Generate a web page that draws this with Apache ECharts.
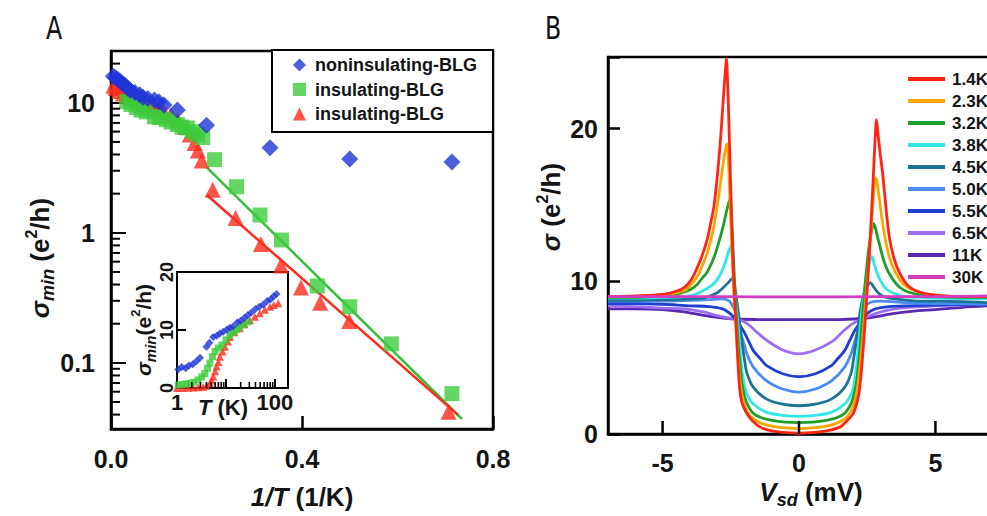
<!DOCTYPE html>
<html><head><meta charset="utf-8">
<script src="https://cdn.jsdelivr.net/npm/echarts@6/dist/echarts.min.js"></script>
<style>html,body{margin:0;padding:0;background:#fff}#c{width:987px;height:516px}</style>
</head><body><div id="c"></div>
<script>
// ===== Panel A: sigma_min vs 1/T (log y) =====
const invT_non = [0.005,0.01,0.015,0.02,0.025,0.03,0.035,0.04,0.05,0.06,0.067,0.077,0.091,0.1,0.111,0.139,0.2,0.333,0.5,0.714];
const sig_non  = [16,15.5,15,14.5,14,13.5,13,12.5,12,11.5,11,10.8,10.5,10.2,9.6,8.8,6.7,4.5,3.7,3.5];
const invT_insG = [0.033,0.042,0.053,0.063,0.074,0.091,0.101,0.116,0.126,0.139,0.149,0.16,0.171,0.181,0.192,0.217,0.263,0.312,0.357,0.432,0.5,0.587,0.714];
const sig_insG  = [10.2,9.7,9.2,8.8,8.5,7.8,7.7,7.4,7.1,6.8,6.5,6.4,6.0,5.7,5.4,3.65,2.26,1.37,0.88,0.39,0.27,0.14,0.058];
const invT_insR = [0.005,0.01,0.017,0.025,0.032,0.04,0.05,0.06,0.07,0.08,0.09,0.1,0.11,0.125,0.14,0.155,0.165,0.175,0.182,0.19,0.213,0.261,0.314,0.356,0.398,0.438,0.499,0.707];
const sig_insR  = [13.5,13,12.3,11.8,11.4,11,10.6,10.2,9.9,9.6,9.3,9.0,8.6,8.0,7.3,6.5,5.7,4.9,4.3,3.6,2.14,1.3,0.82,0.56,0.38,0.29,0.21,0.042];
const fitG_x = [0.2, 0.735];
const fitG_y = [3.2, 0.037];
const fitR_x = [0.2, 0.726];
const fitR_y = [1.96, 0.04];
const minorTicksA = [0.04,0.05,0.06,0.07,0.08,0.09,0.2,0.3,0.4,0.5,0.6,0.7,0.8,0.9,2,3,4,5,6,7,8,9,20];

// ===== Inset: sigma_min vs T (log x) =====
const T_non  = [1.06,1.25,1.5,1.75,2.1,2.5,2.95,4.0,4.6,5.5,6.5,7.5,8.8,10.5,12,14,17,20,24,28,33,40,48,58,70,82,95,108];
const s_non  = [3.2,3.6,3.4,3.9,4.1,4.6,5.2,7.1,7.8,8.8,9.0,9.4,9.7,10.1,10.4,10.6,11.3,11.6,12.1,12.6,13.0,13.6,14.0,14.4,15.0,15.3,15.8,16.2];
const T_insG = [1.06,1.3,1.55,1.84,2.2,2.7,3.2,3.7,4.2,4.7,5.3,6,7,8.2,10,12,14,16,19,23,28];
const s_insG = [0.5,0.6,0.7,0.8,1.0,1.4,1.9,2.5,3.4,4.3,5.4,6.3,6.9,7.4,8.3,9.1,9.6,10.0,10.4,10.9,11.4];
const T_insR = [1.0,1.3,1.7,2.15,2.7,3.4,4.0,4.7,5.1,5.5,6.0,6.4,7.0,7.5,8.5,9.5,11,12,15,19,24,31,39,49,62,79,95,117];
const s_insR = [0.0,0.0,0.05,0.1,0.15,0.2,0.4,0.8,1.3,2.0,2.9,3.7,4.5,5.4,6.3,7.1,8.0,8.8,9.6,10.3,11.0,11.7,12.3,12.9,13.5,14.0,14.3,14.6];
const minorTicksInset = [2,3,4,5,6,7,8,9,20,30,40,50,60,70,80,90];

// ===== Panel B: sigma vs Vsd, [V (mV), sigma (e^2/h)] =====
const tempLabels = ['1.4K','2.3K','3.2K','3.8K','4.5K','5.0K','5.5K','6.5K','11K','30K'];
const c14 = [[-7,9.0],[-6,9.05],[-5,9.15],[-4.5,9.35],[-4.2,9.6],[-3.95,10.1],[-3.73,10.9],[-3.55,11.7],[-3.37,12.7],[-3.25,13.7],[-3.12,14.9],[-3.0,16.8],[-2.88,19.2],[-2.78,21.8],[-2.7,23.8],[-2.66,24.6],[-2.62,23.2],[-2.57,20.5],[-2.52,17.2],[-2.47,14.2],[-2.42,11.4],[-2.37,9.2],[-2.32,7.6],[-2.27,5.8],[-2.22,4.1],[-2.17,2.9],[-2.1,2.1],[-2.0,1.65],[-1.9,1.32],[-1.7,0.85],[-1.42,0.45],[-1.0,0.2],[-0.6,0.1],[0,0.05],[0.6,0.1],[1.0,0.2],[1.5,0.45],[1.75,0.85],[1.98,1.32],[2.1,1.9],[2.2,2.7],[2.27,3.8],[2.34,5.3],[2.41,7.0],[2.5,9.5],[2.6,12.5],[2.7,16.0],[2.78,19.0],[2.84,20.6],[2.9,19.6],[2.98,18.3],[3.07,17.0],[3.2,14.6],[3.32,12.8],[3.5,11.4],[3.7,10.5],[3.95,9.8],[4.2,9.45],[4.6,9.2],[5,9.1],[6,9.0],[7,9.0]];
const c23 = [[-7,9.0],[-6,9.0],[-5,9.1],[-4.5,9.25],[-4.2,9.4],[-3.95,9.8],[-3.73,10.3],[-3.55,11.0],[-3.37,11.8],[-3.25,12.6],[-3.12,13.6],[-3.0,14.9],[-2.88,16.4],[-2.78,17.7],[-2.7,18.6],[-2.64,19.0],[-2.6,18.3],[-2.55,16.3],[-2.5,14.0],[-2.45,11.8],[-2.4,9.8],[-2.35,8.2],[-2.3,6.8],[-2.25,5.3],[-2.2,4.1],[-2.13,3.0],[-2.05,2.2],[-1.95,1.65],[-1.8,1.2],[-1.6,0.9],[-1.3,0.65],[-0.9,0.48],[-0.5,0.4],[0,0.35],[0.5,0.4],[0.9,0.48],[1.3,0.65],[1.6,0.9],[1.8,1.2],[1.95,1.65],[2.05,2.2],[2.15,3.1],[2.23,4.3],[2.3,5.6],[2.38,7.3],[2.46,9.1],[2.55,11.2],[2.65,13.6],[2.74,15.8],[2.81,16.8],[2.87,16.4],[2.95,15.3],[3.05,14.0],[3.2,12.4],[3.4,11.1],[3.7,10.1],[4.0,9.6],[4.5,9.25],[5,9.1],[6,9.0],[7,9.0]];
const c32 = [[-7,8.95],[-6,8.95],[-5,9.05],[-4.5,9.15],[-4.2,9.3],[-3.95,9.5],[-3.73,9.8],[-3.55,10.2],[-3.37,10.6],[-3.2,11.2],[-3.05,11.9],[-2.9,12.8],[-2.78,13.6],[-2.68,14.4],[-2.6,15.0],[-2.53,15.4],[-2.48,14.3],[-2.43,12.6],[-2.38,10.7],[-2.33,8.8],[-2.28,7.2],[-2.22,5.6],[-2.16,4.5],[-2.1,3.4],[-2.0,2.5],[-1.9,1.95],[-1.7,1.4],[-1.4,1.08],[-1.0,0.9],[-0.5,0.78],[0,0.75],[0.5,0.78],[1.0,0.9],[1.4,1.08],[1.7,1.4],[1.9,1.95],[2.0,2.5],[2.1,3.3],[2.18,4.5],[2.25,5.9],[2.32,7.5],[2.4,9.3],[2.48,10.9],[2.56,12.2],[2.65,13.2],[2.74,13.8],[2.8,13.5],[2.88,12.9],[2.98,12.2],[3.1,11.4],[3.25,10.7],[3.45,10.1],[3.7,9.6],[4.0,9.3],[4.5,9.1],[5,9.0],[6,8.95],[7,8.95]];
const c38 = [[-7,8.9],[-6,8.9],[-5,8.95],[-4.2,9.0],[-3.8,9.15],[-3.4,9.5],[-3.1,9.9],[-2.9,10.4],[-2.75,11.0],[-2.62,11.7],[-2.55,12.1],[-2.49,12.35],[-2.44,11.4],[-2.39,10.2],[-2.33,9.0],[-2.27,7.8],[-2.2,6.5],[-2.14,5.1],[-2.08,4.0],[-2.0,3.2],[-1.91,2.6],[-1.68,1.98],[-1.2,1.43],[-0.6,1.22],[0,1.15],[0.6,1.22],[1.2,1.43],[1.68,1.98],[1.91,2.6],[2.0,3.1],[2.07,3.9],[2.14,5.0],[2.2,6.2],[2.27,7.5],[2.35,8.8],[2.44,10.0],[2.53,10.9],[2.61,11.4],[2.68,11.6],[2.75,11.2],[2.85,10.6],[3.0,10.0],[3.2,9.5],[3.5,9.2],[3.9,9.0],[4.5,8.95],[5,8.9],[7,8.85]];
const c45 = [[-7,8.75],[-6,8.75],[-5,8.8],[-4,8.85],[-3.4,8.95],[-3.0,9.25],[-2.8,9.55],[-2.6,9.9],[-2.5,10.1],[-2.42,10.2],[-2.36,9.7],[-2.3,9.0],[-2.24,8.2],[-2.17,7.2],[-2.1,6.1],[-2.0,4.9],[-1.91,4.0],[-1.68,3.07],[-1.2,2.3],[-0.6,1.95],[0,1.85],[0.6,1.95],[1.2,2.3],[1.68,3.07],[1.91,4.0],[2.0,4.9],[2.1,6.1],[2.2,7.5],[2.3,8.6],[2.4,9.3],[2.5,9.7],[2.62,9.9],[2.75,9.6],[2.9,9.25],[3.1,9.0],[3.5,8.85],[4.5,8.7],[5,8.7],[7,8.6]];
const c50 = [[-7,8.7],[-6,8.7],[-5,8.7],[-4,8.75],[-3.3,8.8],[-2.8,8.85],[-2.55,8.7],[-2.4,8.3],[-2.3,7.9],[-2.15,6.7],[-2.0,5.8],[-1.91,5.26],[-1.68,4.4],[-1.2,3.5],[-0.6,2.95],[0,2.75],[0.6,2.95],[1.2,3.5],[1.68,4.4],[1.91,5.26],[2.0,5.8],[2.15,6.7],[2.3,7.8],[2.45,8.4],[2.65,8.65],[3.0,8.7],[4,8.6],[5,8.55],[7,8.5]];
const c55 = [[-7,8.55],[-6,8.55],[-5,8.5],[-4,8.4],[-3.3,8.35],[-2.8,8.2],[-2.5,7.85],[-2.3,7.45],[-2.05,6.8],[-1.85,6.1],[-1.68,5.48],[-1.4,4.9],[-1.2,4.5],[-0.6,3.95],[0,3.75],[0.6,3.95],[1.2,4.5],[1.4,4.9],[1.68,5.48],[1.85,6.1],[2.05,6.8],[2.3,7.45],[2.5,7.9],[2.8,8.2],[3.3,8.35],[4,8.4],[5,8.45],[7,8.5]];
const c65 = [[-7,8.4],[-6,8.35],[-5,8.25],[-4.2,8.2],[-3.5,8.0],[-3.0,7.75],[-2.6,7.6],[-2.3,7.55],[-1.91,7.25],[-1.5,6.6],[-1.18,6.13],[-0.6,5.5],[0,5.25],[0.6,5.5],[1.25,6.1],[1.6,6.7],[1.98,7.25],[2.46,7.65],[3.0,8.0],[3.5,8.2],[4.5,8.35],[5,8.4],[7,8.55]];
const c11 = [[-7,8.2],[-6,8.2],[-5,8.15],[-4.2,8.0],[-3.5,7.77],[-2.5,7.55],[-1.5,7.5],[0,7.49],[1.5,7.5],[2.5,7.6],[3.5,7.9],[4.2,8.05],[5,8.15],[6,8.3],[7,8.4]];
const c30 = [[-7,9.0],[-5,9.0],[-3,9.0],[0,8.98],[3,9.0],[5,9.0],[7,9.05]];
const curveColors = ['#ff2414','#f5a800','#1f9e2a','#33e6e6','#1d7396','#4a8cf0','#1f3fd2','#9b6ff0','#5a28b4','#d23cc0'];
const xTicksB = [-5, 0, 5];

// ===== build =====
const FONT = '"Liberation Sans", Arial, Helvetica, sans-serif';
const INK = '#141414';
const zip = (xs, ys) => xs.map((x, i) => [x, ys[i]]);
const axisLine = {show: true, onZero: false, lineStyle: {color: '#000', width: 2.5}};
const lbl = (size, extra) => Object.assign({color: INK, fontSize: size, fontWeight: 'bold', fontFamily: FONT}, extra || {});
const isDecade = v => { const l = Math.log10(v); return Math.abs(l - Math.round(l)) < 1e-6; };

const chart = echarts.init(document.getElementById('c'), null, {renderer: 'svg'});

function richTitle(size, subSize, supSize) {
  return {
    i: {fontStyle: 'italic', fontWeight: 'bold', fontSize: size, fontFamily: FONT, fill: INK, lineHeight: size + 8},
    n: {fontWeight: 'bold', fontSize: size, fontFamily: FONT, fill: INK, lineHeight: size + 8},
    sub: {fontStyle: 'italic', fontWeight: 'bold', fontSize: subSize, fontFamily: FONT, fill: INK, verticalAlign: 'bottom'},
    sup: {fontWeight: 'bold', fontSize: supSize, fontFamily: FONT, fill: INK, verticalAlign: 'top'}
  };
}
function title(x, y, text, size, subSize, supSize, rot) {
  return {type: 'text', x: x, y: y, rotation: rot || 0, z: 100,
    style: {text: text, rich: richTitle(size, subSize, supSize), align: 'center', verticalAlign: 'middle',
      textAlign: 'center', textVerticalAlign: 'middle', fontSize: size, fontWeight: 'bold', fontFamily: FONT, fill: INK}};
}
function panelLetter(x, y, t) {
  return {type: 'text', x: x, y: y, scaleX: 0.74, z: 100,
    style: {text: t, fontSize: 32, fontFamily: '"DejaVu Sans", sans-serif', fill: '#111',
      align: 'center', verticalAlign: 'middle', textAlign: 'center', textVerticalAlign: 'middle'}};
}
function tickSeries(xi, yi, data, dx, dy, width) {
  return {type: 'custom', xAxisIndex: xi, yAxisIndex: yi, silent: true, z: 6, clip: false, data: data,
    renderItem: (p, api) => { const c = api.coord([api.value(0), api.value(1)]);
      return {type: 'line', shape: {x1: c[0], y1: c[1], x2: c[0] + dx, y2: c[1] + dy}, style: {stroke: '#000', lineWidth: width}}; }};
}

const seriesB = [];
const curves = [c14, c23, c32, c38, c45, c50, c55, c65, c11, c30];
const drawOrder = [8, 7, 6, 5, 4, 3, 2, 1, 0, 9];
drawOrder.forEach(k => {
  seriesB.push({type: 'line', name: tempLabels[k], xAxisIndex: 2, yAxisIndex: 2, data: curves[k],
    showSymbol: false, smooth: 0.3, clip: true, color: curveColors[k],
    lineStyle: {width: 2.8, color: curveColors[k]}, z: 3});
});

const option = {
  animation: false,
  backgroundColor: '#fff',
  grid: [
    {left: 111, top: 51, width: 382, height: 378, show: true, borderColor: '#000', borderWidth: 2.5, backgroundColor: '#fff', outerBoundsMode: 'none', containLabel: false},
    {left: 177, top: 272, width: 111, height: 116, show: true, borderColor: '#000', borderWidth: 2, backgroundColor: '#fff', outerBoundsMode: 'none', containLabel: false},
    {left: 608, top: 57, width: 382, height: 377, show: true, borderColor: '#000', borderWidth: 2.5, backgroundColor: '#fff', outerBoundsMode: 'none', containLabel: false}
  ],
  xAxis: [
    {gridIndex: 0, type: 'value', min: 0, max: 0.8, interval: 0.4, axisLine: axisLine,
      axisTick: {inside: true, length: 13, lineStyle: {width: 2.5, color: '#000'}}, splitLine: {show: false},
      axisLabel: lbl(25, {margin: 17, formatter: v => v.toFixed(1)})},
    {gridIndex: 1, type: 'log', logBase: 10, min: 1, max: 185, axisLine: {show: true, onZero: false, lineStyle: {color: '#000', width: 2}},
      axisTick: {inside: true, length: 9, lineStyle: {width: 2, color: '#000'}}, splitLine: {show: false}, minorTick: {show: false},
      axisLabel: lbl(22, {margin: 3, formatter: v => (Math.abs(v - 1) < 1e-6 || Math.abs(v - 100) < 1e-6) ? String(Math.round(v)) : ''})},
    {gridIndex: 2, type: 'value', min: -7, max: 7, axisLine: axisLine,
      axisTick: {show: false}, splitLine: {show: false},
      axisLabel: lbl(25, {margin: 16, customValues: xTicksB})}
  ],
  yAxis: [
    {gridIndex: 0, type: 'log', logBase: 10, min: 0.031, max: 25, axisLine: axisLine,
      axisTick: {inside: true, length: 15, lineStyle: {width: 2, color: '#000'}}, splitLine: {show: false}, minorTick: {show: false},
      axisLabel: lbl(25, {margin: 16, formatter: v => {
        if (!isDecade(v)) return ''; const l = Math.round(Math.log10(v));
        return l < 0 ? v.toFixed(-l) : String(Math.round(v)); }})},
    {gridIndex: 1, type: 'value', min: 0, max: 20, interval: 10, axisLine: {show: true, onZero: false, lineStyle: {color: '#000', width: 2}},
      axisTick: {inside: true, length: 9, lineStyle: {width: 2, color: '#000'}}, splitLine: {show: false},
      axisLabel: lbl(18, {margin: 10, rotate: 90, align: 'center', verticalAlign: 'middle'})},
    {gridIndex: 2, type: 'value', min: 0, max: 24.7, interval: 10, axisLine: axisLine,
      axisTick: {inside: true, length: 12, lineStyle: {width: 2.5, color: '#000'}}, splitLine: {show: false},
      axisLabel: lbl(25, {margin: 10, formatter: v => (Math.abs(v % 10) < 1e-6 ? String(v) : '')})}
  ],
  legend: [
    {data: ['noninsulating-BLG', 'insulating-BLG#g', 'insulating-BLG#r'], orient: 'vertical', left: 272, top: 50,
      padding: [5, 16, 8, 21], itemGap: 4.5, itemWidth: 13, itemHeight: 13, borderColor: '#000', borderWidth: 2,
      backgroundColor: '#fff', selectedMode: false, formatter: n => n.split('#')[0],
      textStyle: {fontSize: 18, fontWeight: 'bold', fontFamily: FONT, color: INK, lineHeight: 20, padding: [0, 0, 0, 4]}},
    {data: tempLabels, orient: 'vertical', left: 908, top: 70, padding: 0, itemGap: 4, itemWidth: 37, itemHeight: 4,
      icon: 'rect', selectedMode: false,
      textStyle: {fontSize: 17, fontWeight: 'bold', fontFamily: FONT, color: INK, lineHeight: 18, padding: [0, 0, 0, 2]}}
  ],
  graphic: [
    panelLetter(54, 28, 'A'),
    panelLetter(553, 28, 'B'),
    title(302, 497, '{i|1/T}{n| (1/K)}', 26, 17, 16),
    title(40, 258, '{i|σ}{sub|min}{n| (e}{sup|2}{n|/h)}', 26, 18, 16, Math.PI / 2),
    title(143, 330, '{i|σ}{sub|min}{n|(e}{sup|2}{n|/h)}', 21, 15, 13, Math.PI / 2),
    title(223, 407, '{i|T}{n| (K)}', 22, 14, 13),
    title(551, 207, '{i|σ}{n| (e}{sup|2}{n|/h)}', 26, 17, 16, Math.PI / 2),
    title(811, 492, '{i|V}{sub|sd}{n| (mV)}', 26, 18, 16)
  ],
  series: [
    tickSeries(0, 0, minorTicksA.map(v => [0, v]), 9, 0, 2),
    tickSeries(1, 1, minorTicksInset.map(v => [v, 0]), 0, -6, 1.6),
    tickSeries(2, 2, xTicksB.map(v => [v, 0]), 0, -13, 2.5),
    {type: 'line', name: 'fitG', xAxisIndex: 0, yAxisIndex: 0, data: zip(fitG_x, fitG_y), showSymbol: false,
      lineStyle: {width: 2.5, color: '#35c035'}, z: 2},
    {type: 'line', name: 'fitR', xAxisIndex: 0, yAxisIndex: 0, data: zip(fitR_x, fitR_y), showSymbol: false,
      lineStyle: {width: 2.5, color: '#ff2a1a'}, z: 2},
    {type: 'scatter', name: 'insulating-BLG#r', xAxisIndex: 0, yAxisIndex: 0, data: zip(invT_insR, sig_insR),
      symbol: 'triangle', symbolSize: 16, itemStyle: {color: '#ff2a1a'}, z: 3},
    {type: 'scatter', name: 'insulating-BLG#g', xAxisIndex: 0, yAxisIndex: 0, data: zip(invT_insG, sig_insG),
      symbol: 'rect', symbolSize: 15, itemStyle: {color: '#3ccc3c'}, z: 4},
    {type: 'scatter', name: 'noninsulating-BLG', xAxisIndex: 0, yAxisIndex: 0, data: zip(invT_non, sig_non),
      symbol: 'diamond', symbolSize: 17, itemStyle: {color: '#1f35d6'}, z: 5},
    {type: 'scatter', name: 'inset-non', xAxisIndex: 1, yAxisIndex: 1, data: zip(T_non, s_non),
      symbol: 'diamond', symbolSize: 8, itemStyle: {color: '#1f35d6'}, z: 5},
    {type: 'scatter', name: 'inset-g', xAxisIndex: 1, yAxisIndex: 1, data: zip(T_insG, s_insG),
      symbol: 'rect', symbolSize: 7, itemStyle: {color: '#3ccc3c'}, z: 4},
    {type: 'scatter', name: 'inset-r', xAxisIndex: 1, yAxisIndex: 1, data: zip(T_insR, s_insR),
      symbol: 'triangle', symbolSize: 8, itemStyle: {color: '#ff2a1a'}, z: 3}
  ].concat(seriesB)
};
chart.setOption(option);
</script>
</body></html>
